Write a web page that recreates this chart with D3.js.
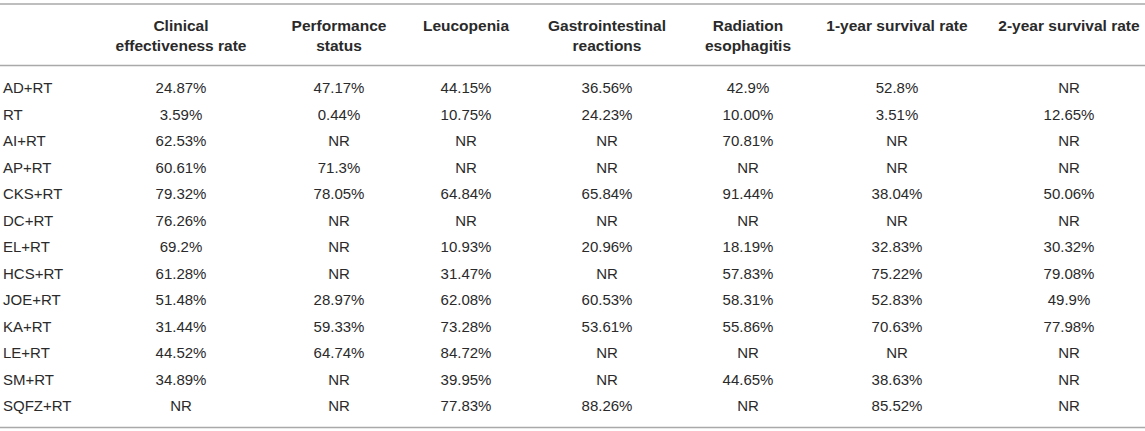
<!DOCTYPE html>
<html>
<head>
<meta charset="utf-8">
<script src="https://cdn.jsdelivr.net/npm/d3@7"></script>
<style>
  html, body { margin: 0; padding: 0; background: #fff; }
  svg { display: block; font-family: "Liberation Sans", Arial, Helvetica, sans-serif; }
</style>
</head>
<body>
<svg id="chart" width="1145" height="431"></svg>
<script>
// table content
const regimens = ["AD+RT", "RT", "AI+RT", "AP+RT", "CKS+RT", "DC+RT", "EL+RT", "HCS+RT", "JOE+RT", "KA+RT", "LE+RT", "SM+RT", "SQFZ+RT"];
const headers = [
  ["Clinical", "effectiveness rate"],
  ["Performance", "status"],
  ["Leucopenia"],
  ["Gastrointestinal", "reactions"],
  ["Radiation", "esophagitis"],
  ["1-year survival rate"],
  ["2-year survival rate"]
];
const clinicalEffectiveness = ["24.87%", "3.59%", "62.53%", "60.61%", "79.32%", "76.26%", "69.2%", "61.28%", "51.48%", "31.44%", "44.52%", "34.89%", "NR"];
const performanceStatus = ["47.17%", "0.44%", "NR", "71.3%", "78.05%", "NR", "NR", "NR", "28.97%", "59.33%", "64.74%", "NR", "NR"];
const leucopenia = ["44.15%", "10.75%", "NR", "NR", "64.84%", "NR", "10.93%", "31.47%", "62.08%", "73.28%", "84.72%", "39.95%", "77.83%"];
const gastrointestinal = ["36.56%", "24.23%", "NR", "NR", "65.84%", "NR", "20.96%", "NR", "60.53%", "53.61%", "NR", "NR", "88.26%"];
const radiationEsophagitis = ["42.9%", "10.00%", "70.81%", "NR", "91.44%", "NR", "18.19%", "57.83%", "58.31%", "55.86%", "NR", "44.65%", "NR"];
const survival1y = ["52.8%", "3.51%", "NR", "NR", "38.04%", "NR", "32.83%", "75.22%", "52.83%", "70.63%", "NR", "38.63%", "85.52%"];
const survival2y = ["NR", "12.65%", "NR", "NR", "50.06%", "NR", "30.32%", "79.08%", "49.9%", "77.98%", "NR", "NR", "NR"];

const columns = [clinicalEffectiveness, performanceStatus, leucopenia, gastrointestinal, radiationEsophagitis, survival1y, survival2y];

const svg = d3.select("#chart");
const width = 1145;
const textColor = "#2a2a2a";
const ruleColor = "#a9a9a9";

const colIdx = d3.range(columns.length);
const x = d3.scaleOrdinal().domain(colIdx).range([181, 339, 466, 607, 748, 897, 1069]);
const y = d3.scaleBand().domain(regimens).range([74.75, 74.75 + 26.5 * regimens.length]);

// rules
svg.append("g").selectAll("line")
  .data([4, 65.5, 427.5])
  .join("line")
  .attr("x1", 0).attr("x2", width)
  .attr("y1", d => d).attr("y2", d => d)
  .attr("stroke", ruleColor).attr("stroke-width", 1.6);

// header
const head = svg.append("g").attr("font-weight", "bold").attr("font-size", 15.5).attr("fill", textColor);
head.selectAll("text")
  .data(headers)
  .join("text")
  .attr("text-anchor", "middle")
  .attr("x", (d, i) => x(i))
  .selectAll("tspan")
  .data(d => d)
  .join("tspan")
  .attr("x", function () { return d3.select(this.parentNode).attr("x"); })
  .attr("y", (d, j) => 30.5 + j * 20.5)
  .text(d => d);

// row labels
svg.append("g").attr("font-size", 15).attr("fill", textColor)
  .selectAll("text")
  .data(regimens)
  .join("text")
  .attr("x", 3)
  .attr("y", d => y(d) + y.bandwidth() / 2 + 5.3)
  .text(d => d);

// cells
svg.append("g").attr("font-size", 15).attr("fill", textColor)
  .selectAll("g")
  .data(columns)
  .join("g")
  .selectAll("text")
  .data((vals, i) => vals.map((v, r) => ({ v, r, i })))
  .join("text")
  .attr("text-anchor", "middle")
  .attr("x", d => x(d.i))
  .attr("y", d => y(regimens[d.r]) + y.bandwidth() / 2 + 5.3)
  .text(d => d.v);
</script>
</body>
</html>
